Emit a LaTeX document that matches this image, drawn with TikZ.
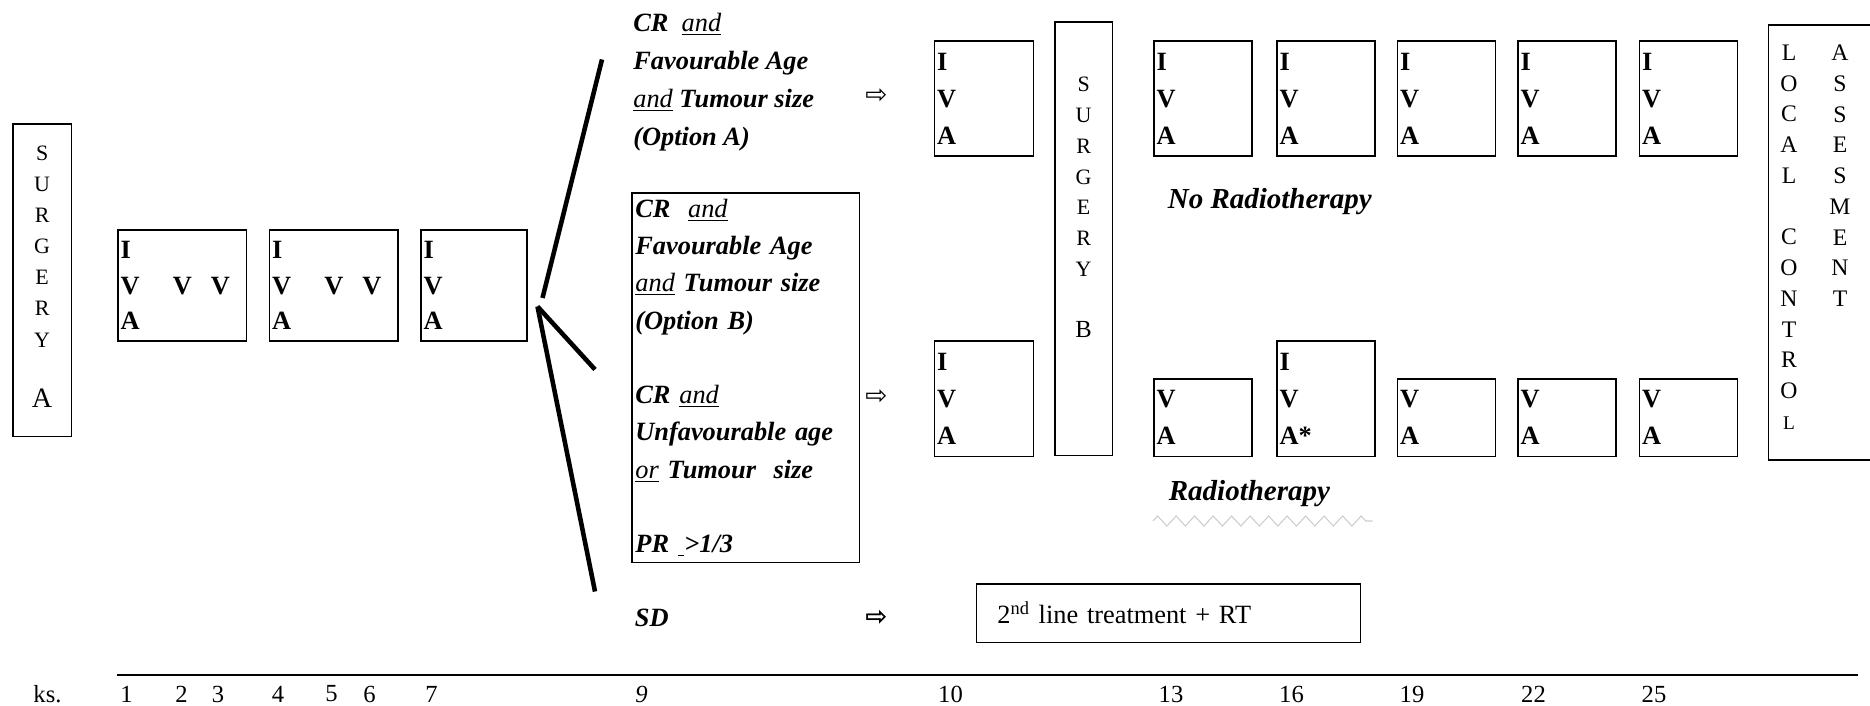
\documentclass[tikz,border=0pt]{standalone}
\usepackage{fontspec}
\setmainfont{Liberation Serif}
\newfontfamily\arrfont{DejaVu Sans}
\usetikzlibrary{positioning,decorations.pathmorphing}

\begin{document}
\begin{tikzpicture}[font=\fontsize{14}{17}\selectfont,
 bx/.style={draw,line width=1pt,inner sep=0pt,anchor=north west},
 iva/.style 2 args={draw,line width=1pt,anchor=north west,minimum width=#1cm,minimum height=#2cm,text width=#1cm-3pt,inner xsep=1.5pt,inner ysep=0pt,align=left,font=\fontsize{15}{21}\selectfont\bfseries},
 opt/.style={anchor=north west,align=left,inner sep=0pt,font=\fontsize{15}{21.7}\selectfont\bfseries\itshape},
 rad/.style={anchor=west,inner sep=0pt,font=\fontsize{16.5}{18}\selectfont\bfseries\itshape},
 vlt/.style={anchor=north,align=center,inner sep=0pt,font=\fontsize{12.5}{17.5}\selectfont},
 arw/.style={inner sep=0pt,font=\fontsize{15}{15}\selectfont\arrfont},
 fork/.style={line width=2.6pt},
 tk/.style={inner sep=0pt,font=\fontsize{14}{16}\selectfont},
 zz/.style={gray!40,line width=0.6pt,decorate,decoration={zigzag,segment length=0.37cm,amplitude=0.1cm}}]
\useasboundingbox (0,0) rectangle (37.40,-14.12);
\clip (0,0) rectangle (37.40,-14.12);
\node[bx,minimum width=1.17cm,minimum height=6.25cm] (sga) at (0.24,-2.46) {};
\node[vlt,font=\fontsize{12.5}{17.7}\selectfont] (sgat) at ([yshift=-0.45cm]sga.north) {S\\U\\R\\G\\E\\R\\Y\\[17pt]{\fontsize{16}{18}\selectfont A}};
\node[iva={2.57}{2.22},font=\fontsize{15}{20.4}\selectfont\bfseries] (w1) at (2.34,-4.58) {I\\V\hspace{19pt}V\hspace{10.8pt}V\\A};
\node[iva={2.57}{2.22},font=\fontsize{15}{20.4}\selectfont\bfseries] (w4) at (5.37,-4.58) {I\\V\hspace{19pt}V\hspace{10.8pt}V\\A};
\node[iva={2.12}{2.22},font=\fontsize{15}{20.4}\selectfont\bfseries] (w7) at (8.40,-4.58) {I\\V\\A};
\coordinate (fa) at (10.85,-5.96);
\coordinate (fb) at (10.75,-6.13);
\coordinate (ea) at (12.04,-1.19);
\coordinate (eb) at (11.90,-7.39);
\coordinate (ec) at (11.90,-11.83);
\draw[fork] (fa) -- (ea);
\draw[fork] (fb) -- (eb);
\draw[fork] (fb) -- (ec);
\node[opt] (oa) at (12.66,-0.25) {CR~ \underline{\mdseries and}\\Favourable Age\\\underline{\mdseries and} Tumour size\\(Option A)};
\node[opt,draw,line width=1pt,minimum width=4.55cm,minimum height=7.39cm,text width=4.55cm-4pt,inner xsep=2pt,font=\fontsize{15}{21.2}\selectfont\bfseries\itshape] (ob) at (12.62,-3.84) {CR~ \underline{\mdseries and}\\Favourable Age\\\underline{\mdseries and} Tumour size\\(Option B)\\[21.2pt]CR \underline{\mdseries and}\\Unfavourable age\\\underline{\mdseries or} Tumour~ size\\[21.2pt]PR \underline{\hspace{0.25em}}>1/3};
\node[opt,anchor=west] (sd) at (12.69,-12.35) {SD};
\node[arw] (pa) at (17.53,-1.93) {⇨};
\node[arw] (pb) at (17.53,-7.94) {⇨};
\node[arw,font=\fontsize{15}{15}\selectfont\arrfont\bfseries] (pc) at (17.53,-12.35) {⇨};
\node[iva={1.98}{2.29}] (t10) at (18.67,-0.81) {I\\V\\A};
\node[iva={1.98}{2.31}] (b10) at (18.67,-6.80) {I\\V\\A};
\node[bx,minimum width=1.15cm,minimum height=8.66cm] (sgb) at (21.08,-0.43) {};
\node[vlt] (sgbt) at ([yshift=-1.11cm]sgb.north) {S\\U\\R\\G\\E\\R\\Y\\[17pt]{\fontsize{14}{16}\selectfont B}};
\foreach \x/\n in {23.06/13,25.52/16,27.93/19,30.34/22,32.77/25}
  \node[iva={1.96}{2.29}] (t\n) at (\x,-0.81) {I\\V\\A};
\foreach \x/\n in {23.06/13,27.93/19,30.34/22,32.77/25}
  \node[iva={1.96}{1.55}] (b\n) at (\x,-7.56) {V\\A};
\node[iva={1.96}{2.31}] (b16) at (25.52,-6.80) {I\\V\\A*};
\node[rad] (nrt) at (23.35,-4.03) {No Radiotherapy};
\node[rad] (rth) at (23.37,-9.88) {Radiotherapy};
\coordinate (za) at (23.06,-10.42);
\coordinate (zb) at (27.45,-10.42);
\draw[zz] (za) -- (zb);
\node[bx,minimum width=7.68cm,minimum height=1.17cm,text width=7.68cm-0.84cm,inner xsep=0.42cm,align=left,font=\fontsize{15}{17}\selectfont] (rt) at (19.51,-11.66) {2\textsuperscript{nd} line treatment + RT};
\node[bx,minimum width=2.4cm,minimum height=8.70cm] (lcb) at (35.35,-0.48) {};
\node[vlt,font=\fontsize{13.5}{17.5}\selectfont] (lcl) at (35.78,-0.89) {L\\O\\C\\A\\L\\[17.5pt]C\\O\\N\\T\\R\\O\\{\fontsize{11}{13}\selectfont L}};
\node[vlt,font=\fontsize{13.5}{17.5}\selectfont] (asm) at (36.80,-0.89) {A\\S\\S\\E\\S\\M\\E\\N\\T};
\coordinate (xa) at (2.34,-13.50);
\coordinate (xb) at (37.16,-13.50);
\draw[line width=1.3pt] (xa) -- (xb);
\node[tk] (wk) at (0.95,-13.88) {ks.};
\foreach \x/\t [count=\i] in {2.53/1,3.63/2,4.36/3,5.56/4,6.63/5,7.39/6,8.63/7,12.83/{\textit{9}},19.01/10,23.42/13,25.83/16,28.24/19,30.67/22,33.08/25}
  \node[tk] (k\i) at (\x,-13.88) {\t};
\end{tikzpicture}
\end{document}
